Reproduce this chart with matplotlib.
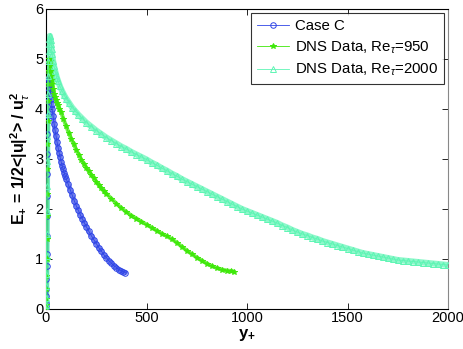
import matplotlib
matplotlib.use("Agg")
import matplotlib.pyplot as plt

plt.rcParams["font.family"] = ["Liberation Sans", "DejaVu Sans"]
plt.rcParams["mathtext.fontset"] = "custom"
plt.rcParams["mathtext.rm"] = "Liberation Sans"
plt.rcParams["mathtext.it"] = "Liberation Sans:italic"
plt.rcParams["mathtext.bf"] = "Liberation Sans:bold"

# Case C
case_yp = [0, 0.4, 0.8, 1.2, 1.6, 2.0, 2.5, 3.0, 3.5, 4.0, 4.6, 5.3, 6.1, 7.0, 8.0,
           9.2, 10.5, 12, 13.5, 15, 17.5, 20, 22.5, 25, 27.5, 30, 35, 40, 45, 50, 55,
           60, 65, 70, 75, 80, 85, 90, 95, 100, 110, 120, 130, 140, 150, 160, 170,
           180, 190, 200, 212, 225, 237, 250, 262, 275, 287, 300, 312, 325, 337,
           350, 362, 375, 385, 395]
case_E = [0, 0.05, 0.12, 0.25, 0.4, 0.6, 0.85, 1.1, 1.45, 1.85, 2.25, 2.7, 3.1, 3.5,
          3.85, 4.15, 4.4, 4.55, 4.6, 4.58, 4.5, 4.4, 4.3, 4.2, 4.1, 4.0, 3.85, 3.7,
          3.57, 3.45, 3.33, 3.22, 3.12, 3.03, 2.94, 2.86, 2.79, 2.72, 2.66, 2.6,
          2.49, 2.38, 2.27, 2.16, 2.06, 1.97, 1.88, 1.8, 1.72, 1.64, 1.55, 1.46,
          1.38, 1.3, 1.22, 1.15, 1.08, 1.02, 0.96, 0.91, 0.86, 0.82, 0.78, 0.75,
          0.73, 0.72]

# DNS, Re_tau = 950
dns950_yp = [0, 0.5, 1, 1.5, 2, 2.6, 3.3, 4, 4.8, 5.7, 6.7, 7.8, 9, 10.3, 11.7, 13.2,
             15, 17.5, 20, 22.5, 25, 27.5, 30, 35, 40, 45, 50, 55, 60, 67, 75, 87,
             100, 112, 125, 137, 150, 162, 175, 187, 200, 212, 225, 237, 250, 262,
             275, 287, 300, 325, 350, 375, 400, 425, 450, 475, 500, 525, 550, 575,
             600, 625, 650, 675, 700, 725, 750, 775, 800, 825, 850, 875, 900, 920,
             935]
dns950_E = [0, 0.07, 0.2, 0.4, 0.65, 1.0, 1.4, 1.85, 2.3, 2.8, 3.3, 3.75, 4.15, 4.5,
            4.75, 4.93, 5.0, 4.95, 4.85, 4.75, 4.65, 4.57, 4.5, 4.39, 4.3, 4.23,
            4.17, 4.12, 4.07, 4.0, 3.93, 3.79, 3.65, 3.52, 3.4, 3.29, 3.18, 3.08,
            2.98, 2.9, 2.82, 2.75, 2.68, 2.61, 2.54, 2.47, 2.41, 2.35, 2.3, 2.2,
            2.1, 2.01, 1.93, 1.86, 1.8, 1.74, 1.68, 1.62, 1.56, 1.5, 1.45, 1.39,
            1.32, 1.24, 1.16, 1.09, 1.02, 0.96, 0.9, 0.85, 0.81, 0.78, 0.76, 0.75,
            0.74]

# DNS, Re_tau = 2000
dns2000_yp = [0, 0.5, 1, 1.5, 2, 2.6, 3.3, 4, 4.8, 5.7, 6.7, 7.8, 9, 10.3, 11.7,
              13.2, 14.8, 16.5, 18.3, 20, 22.5, 25, 27.5, 30, 35, 40, 45, 50, 55,
              60, 70, 80, 90, 100, 115, 130, 145, 160, 180, 200, 225, 250, 275, 300,
              325, 350, 375, 400, 425, 450, 475, 500, 525, 550, 575, 600, 625, 650,
              675, 700, 725, 750, 775, 800, 825, 850, 875, 900, 925, 950, 975, 1000,
              1025, 1050, 1075, 1100, 1125, 1150, 1175, 1200, 1225, 1250, 1275,
              1300, 1325, 1350, 1375, 1400, 1425, 1450, 1475, 1500, 1525, 1550,
              1575, 1600, 1625, 1650, 1675, 1700, 1725, 1750, 1775, 1800, 1825,
              1850, 1875, 1900, 1925, 1950, 1975, 2000]
dns2000_E = [0, 0.08, 0.22, 0.45, 0.7, 1.05, 1.5, 1.95, 2.45, 2.95, 3.45, 3.9, 4.3,
             4.65, 4.95, 5.15, 5.3, 5.4, 5.45, 5.45, 5.38, 5.3, 5.2, 5.1, 4.96,
             4.85, 4.76, 4.68, 4.61, 4.55, 4.44, 4.35, 4.27, 4.2, 4.11, 4.02, 3.95,
             3.88, 3.8, 3.72, 3.64, 3.56, 3.49, 3.42, 3.36, 3.3, 3.24, 3.19, 3.13,
             3.08, 3.03, 2.98, 2.92, 2.87, 2.81, 2.76, 2.7, 2.65, 2.59, 2.54, 2.49,
             2.44, 2.39, 2.34, 2.29, 2.24, 2.19, 2.14, 2.09, 2.04, 1.99, 1.95, 1.91,
             1.87, 1.83, 1.79, 1.75, 1.71, 1.66, 1.62, 1.57, 1.53, 1.49, 1.46, 1.42,
             1.39, 1.35, 1.32, 1.29, 1.26, 1.23, 1.2, 1.17, 1.14, 1.11, 1.09, 1.07,
             1.05, 1.03, 1.01, 0.99, 0.97, 0.96, 0.95, 0.94, 0.93, 0.92, 0.91, 0.9,
             0.89, 0.88, 0.87]

fig = plt.figure(figsize=(4.63, 3.49), dpi=100)
ax = fig.add_axes([46 / 463, 40.5 / 349, 402 / 463, 300 / 349])

series = [
    (case_yp, case_E, "o", "#2f45e6", "none", "Case C", 3.6),
    (dns950_yp, dns950_E, "*", "#3fe80a", None, r"DNS Data, Re$_\tau$=950", 2.8),
    (dns2000_yp, dns2000_E, "^", "#5ef5b4", "none", r"DNS Data, Re$_\tau$=2000", 4.4),
]
for x, y, m, c, mfc, lab, band in series:
    # dense marker band of the original
    ax.plot(x, y, "-", color=c, lw=band, alpha=0.7, solid_capstyle="round",
            zorder=2)
    kw = dict(mfc=mfc) if mfc else {}
    ax.plot(x, y, "-" + m, color=c, ms=4.0, mew=0.7, lw=0.6, label=lab, zorder=3,
            **kw)

ax.set_xlim(0, 2000)
ax.set_ylim(0, 6)
ax.set_xticks([0, 500, 1000, 1500, 2000])
ax.set_yticks([0, 1, 2, 3, 4, 5, 6])
ax.tick_params(direction="in", top=True, right=True, length=4, width=0.6,
               labelsize=10.5, pad=2)
for s in ax.spines.values():
    s.set_linewidth(0.8)
ax.spines["right"].set_color("#888888")

ax.set_xlabel(r"y$_\mathbf{+}$", fontsize=12, fontweight="bold", labelpad=1)
ax.set_ylabel(r"E$_\mathbf{+}$ = 1/2<|u|$^\mathbf{2}$> / u$_\tau^\mathbf{2}$",
              fontsize=11.5, fontweight="bold", labelpad=2)

leg = ax.legend(loc="upper right", bbox_to_anchor=(444 / 463, 336 / 349),
                bbox_transform=fig.transFigure, fontsize=10.8, frameon=True,
                fancybox=False, edgecolor="black", handlelength=2.1,
                handletextpad=0.4, borderaxespad=0, labelspacing=0.42,
                borderpad=0.4)
leg.get_frame().set_linewidth(0.8)

fig.savefig("out.png", dpi=100)
